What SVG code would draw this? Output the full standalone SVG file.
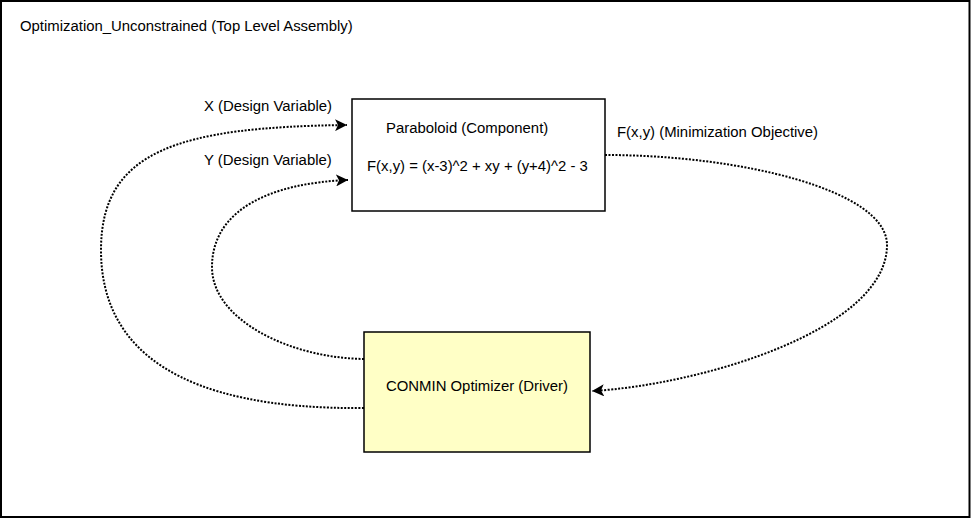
<svg xmlns="http://www.w3.org/2000/svg" width="972" height="520" viewBox="0 0 972 520">
<style>
text{font-family:"Liberation Sans",Arial,sans-serif;font-size:14.9px;fill:#000}
.box{stroke:#000;stroke-width:1.5}
.conn{fill:none;stroke:#000;stroke-width:2;stroke-dasharray:2 1.5}
</style>
<defs>
<marker id="arr" markerWidth="14" markerHeight="12" refX="12" refY="6" orient="auto" markerUnits="userSpaceOnUse">
<path d="M0,0 L12,6 L0,12 L3,6 Z" fill="#000"/>
</marker>
</defs>
<rect x="0" y="0" width="972" height="520" fill="#fff"/>
<g id="assembly">
<rect x="1" y="1" width="968.5" height="516" fill="#fff" stroke="#000" stroke-width="2"/>
<text x="20" y="31">Optimization_Unconstrained (Top Level Assembly)</text>
</g>
<g id="paraboloid">
<rect class="box" x="352" y="99" width="253" height="112" fill="#fff"/>
<text x="386" y="133">Paraboloid (Component)</text>
<text x="367" y="171">F(x,y) = (x-3)^2 + xy + (y+4)^2 - 3</text>
</g>
<g id="driver">
<rect class="box" x="364" y="332" width="226" height="120" fill="#ffffc6"/>
<text x="386" y="391">CONMIN Optimizer (Driver)</text>
</g>
<g id="connectors">
<path class="conn" d="M364,408 C180,410 101,350 101,250 C101,150 180,127 347,125" marker-end="url(#arr)"/>
<path class="conn" d="M364,359 C290,358 212,320 212,267 C212,210 270,183 348,180" marker-end="url(#arr)"/>
<path class="conn" d="M605,155 C740,155 887,190 887,245 C887,330 700,385 592,391" marker-end="url(#arr)"/>
<text x="204" y="111">X (Design Variable)</text>
<text x="204" y="165">Y (Design Variable)</text>
<text x="617" y="137">F(x,y) (Minimization Objective)</text>
</g>
</svg>
